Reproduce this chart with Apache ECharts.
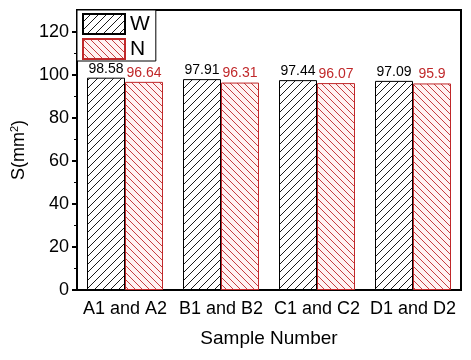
<!doctype html>
<html lang="en">
<head>
<meta charset="UTF-8">
<title>Sample Number</title>
<script src="https://cdn.jsdelivr.net/npm/echarts@6/dist/echarts.min.js"></script>
<style>
  html, body { margin: 0; padding: 0; background: #fff; }
</style>
</head>
<body>
<div id="main" style="width:471px;height:360px;"></div>
<script type="text/javascript">
    // data
    var categories = ['A1 and A2', 'B1 and B2', 'C1 and C2', 'D1 and D2'];
    var valuesW = [98.58, 97.91, 97.44, 97.09];
    var valuesN = [96.64, 96.31, 96.07, 95.9];
    var yTicks = [0, 20, 40, 60, 80, 100, 120];

    var RED = '#c0282a';

    // hatch pattern tiles
    function hatch(color, bg, dir, size, lw) {
        var c = document.createElement('canvas');
        c.width = size; c.height = size;
        var ctx = c.getContext('2d');
        ctx.fillStyle = bg;
        ctx.fillRect(0, 0, size, size);
        ctx.strokeStyle = color;
        ctx.lineWidth = lw;
        ctx.beginPath();
        if (dir == '/') {
            ctx.moveTo(-1, size + 1); ctx.lineTo(size + 1, -1);
            ctx.moveTo(-1, 1); ctx.lineTo(1, -1);
            ctx.moveTo(size - 1, size + 1); ctx.lineTo(size + 1, size - 1);
        } else {
            ctx.moveTo(-1, -1); ctx.lineTo(size + 1, size + 1);
            ctx.moveTo(size - 1, -1); ctx.lineTo(size + 1, 1);
            ctx.moveTo(-1, size - 1); ctx.lineTo(1, size + 1);
        }
        ctx.stroke();
        return c;
    }

    var patW = { image: hatch('#000', '#fff', '/', 8, 0.9), repeat: 'repeat' };
    var patN = { image: hatch(RED, '#fff2f2', '\\', 7, 0.9), repeat: 'repeat' };

    var myChart = echarts.init(document.getElementById('main'));

    var option = {
        animation: false,
        backgroundColor: '#fff',
        textStyle: { fontFamily: 'Liberation Sans, Arial, sans-serif' },
        grid: {
            left: 77, right: 10, top: 10, bottom: 70,
            show: true, borderColor: '#000', borderWidth: 2
        },
        legend: {
            orient: 'vertical',
            left: 77, top: 10,
            padding: [3, 6, 1, 5],
            itemGap: 3,
            itemWidth: 42,
            itemHeight: 20,
            icon: 'rect',
            borderColor: '#000',
            borderWidth: 1,
            backgroundColor: '#fff',
            textStyle: { fontSize: 21, color: '#000' },
            data: ['W', 'N']
        },
        xAxis: {
            type: 'category',
            data: categories,
            name: 'Sample Number',
            nameLocation: 'middle',
            nameGap: 39,
            nameTextStyle: { fontSize: 19, color: '#000' },
            axisLine: { lineStyle: { color: '#000', width: 2 } },
            axisTick: { alignWithLabel: true, length: 5, lineStyle: { color: '#000', width: 2 } },
            axisLabel: { fontSize: 18, color: '#000', margin: 10, interval: 0 }
        },
        yAxis: {
            type: 'value',
            min: 0,
            max: 130,
            interval: 20,
            name: 'S(mm{sup|2})',
            nameLocation: 'middle',
            nameGap: 48,
            nameTextStyle: {
                fontSize: 18, color: '#000',
                rich: { sup: { fontSize: 11, color: '#000', padding: [0, 0, 8, 0] } }
            },
            axisLine: { show: true, lineStyle: { color: '#000', width: 2 } },
            axisTick: { show: true, length: 5, customValues: yTicks, lineStyle: { color: '#000', width: 2 } },
            minorTick: { show: true, splitNumber: 2, length: 3, lineStyle: { color: '#000', width: 1 } },
            axisLabel: { fontSize: 18, color: '#000', margin: 8, customValues: yTicks },
            splitLine: { show: false }
        },
        series: [
            {
                name: 'W',
                type: 'bar',
                data: valuesW,
                barWidth: 38,
                barGap: '0%',
                itemStyle: { color: patW, borderColor: '#000', borderWidth: 1 },
                label: {
                    show: true, position: 'top', distance: 2,
                    fontSize: 14, color: '#000',
                    formatter: function (p) { return String(p.value); }
                }
            },
            {
                name: 'N',
                type: 'bar',
                data: valuesN,
                barWidth: 38,
                barGap: '0%',
                itemStyle: { color: patN, borderColor: RED, borderWidth: 1 },
                label: {
                    show: true, position: 'top', distance: 2,
                    fontSize: 14, color: RED,
                    formatter: function (p) { return String(p.value); }
                }
            }
        ]
    };

    myChart.setOption(option);
</script>
</body>
</html>
